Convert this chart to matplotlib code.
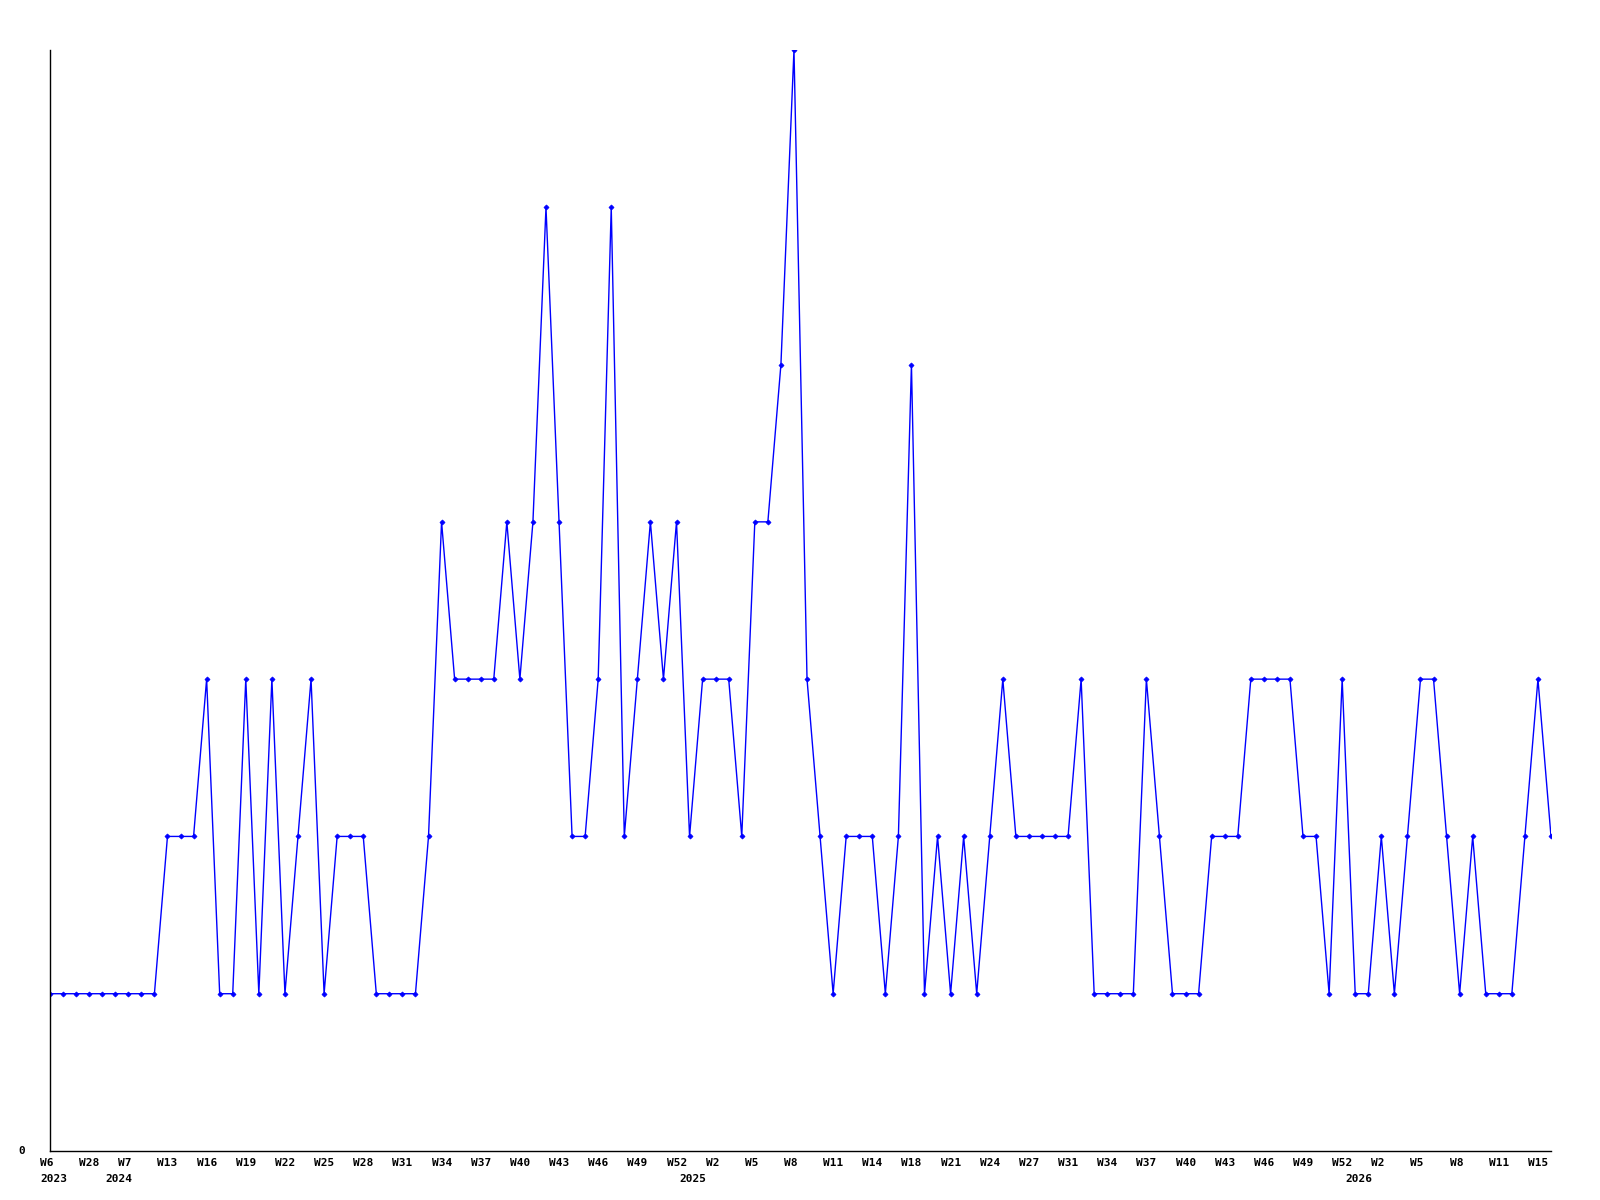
import matplotlib
matplotlib.use("Agg")
import matplotlib.pyplot as plt

# weekly counts, one point per week present in the data
counts = [1, 1, 1, 1, 1, 1, 1, 1, 1, 2,
          2, 2, 3, 1, 1, 3, 1, 3, 1, 2,
          3, 1, 2, 2, 2, 1, 1, 1, 1, 2,
          4, 3, 3, 3, 3, 4, 3, 4, 6, 4,
          2, 2, 3, 6, 2, 3, 4, 3, 4, 2,
          3, 3, 3, 2, 4, 4, 5, 7, 3, 2,
          1, 2, 2, 2, 1, 2, 5, 1, 2, 1,
          2, 1, 2, 3, 2, 2, 2, 2, 2, 3,
          1, 1, 1, 1, 3, 2, 1, 1, 1, 2,
          2, 2, 3, 3, 3, 3, 2, 2, 1, 3,
          1, 1, 2, 1, 2, 3, 3, 2, 1, 2,
          1, 1, 1, 2, 3, 2]

# a week label on every third point
week_labels = ["W6", "W28", "W7", "W13", "W16", "W19", "W22", "W25", "W28", "W31",
               "W34", "W37", "W40", "W43", "W46", "W49", "W52", "W2", "W5", "W8",
               "W11", "W14", "W18", "W21", "W24", "W27", "W31", "W34", "W37", "W40",
               "W43", "W46", "W49", "W52", "W2", "W5", "W8", "W11", "W15"]
label_step = 3

# first point of each year
year_index = [0, 5, 49, 100]
year_labels = ["2023", "2024", "2025", "2026"]

x = list(range(len(counts)))

fig = plt.figure(figsize=(16, 12), dpi=100)
ax = fig.add_axes([50 / 1600, 1 - 1151 / 1200, 1501 / 1600, 1101 / 1200])

ax.plot(x, counts, color="#0000ff", linewidth=1, marker="D", markersize=2.6,
        markeredgewidth=0.5)

ax.set_xlim(0, len(counts) - 1)
ax.set_ylim(0, max(counts))

for side in ["top", "right"]:
    ax.spines[side].set_visible(False)
for side in ["left", "bottom"]:
    ax.spines[side].set_color("black")
    ax.spines[side].set_linewidth(1)

ax.set_xticks([])
ax.set_yticks([])

font = dict(family="DejaVu Sans Mono", fontsize=8, fontweight="bold", color="black")
px = 72 / 100  # one pixel in points

# labels start 1.5 characters left of their point, like the original
for i, lab in enumerate(week_labels):
    ax.annotate(lab, xy=(i * label_step, 0), xycoords=("data", "axes fraction"),
                xytext=(-10 * px, -7 * px), textcoords="offset points",
                ha="left", va="top", **font)
for k, lab in zip(year_index, year_labels):
    ax.annotate(lab, xy=(k, 0), xycoords=("data", "axes fraction"),
                xytext=(-10 * px, -23 * px), textcoords="offset points",
                ha="left", va="top", **font)

ax.annotate("0", xy=(0, 0), xycoords="axes fraction",
            xytext=(-28 * px, 0), textcoords="offset points",
            ha="center", va="center", **font)

fig.savefig("out.png", dpi=100, facecolor="white")
